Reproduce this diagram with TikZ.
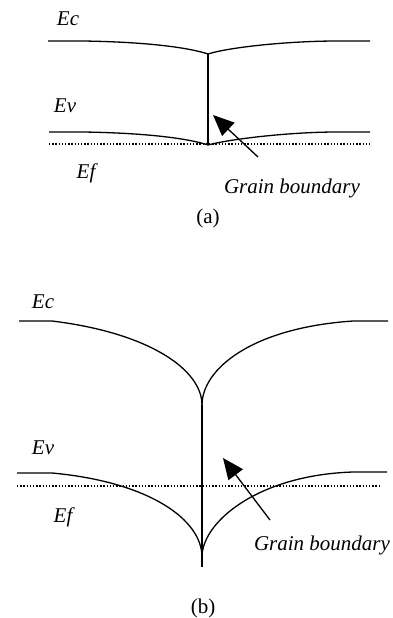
\documentclass[tikz,border=0pt]{standalone}
\usepackage{fontspec}
\setmainfont{Liberation Serif}
\usetikzlibrary{arrows.meta}

\begin{document}
\begin{tikzpicture}[
    x=1pt, y=-1pt,
    band/.style={line width=1.3pt},
    fermi/.style={line width=1.4pt, dash pattern=on 1.4pt off 1.8pt},
    lbl/.style={font=\fontsize{21}{24}\selectfont\itshape, inner sep=0pt},
    panel/.style={font=\fontsize{21}{24}\selectfont, inner sep=0pt},
    arr/.style={-{Triangle[length=21pt, width=18pt]}, line width=1.3pt}
]
    \useasboundingbox (0,0) rectangle (392,618);

    % (a) weak band bending
    \node[lbl] (ca) at (68, 19) {Ec};
    \node[lbl] (va) at (65, 106) {Ev};
    \node[lbl] (fa) at (86, 173) {Ef};

    \draw[band] (48,41) -- (83,41) .. controls (150,42) and (190,48) .. (208,54)
        .. controls (230,47) and (290,41) .. (337,41) -- (370,41);
    \draw[band] (49,132) -- (83,132) .. controls (150,133) and (190,139) .. (208,145)
        .. controls (230,139) and (290,132) .. (337,132) -- (370,132);
    \draw[band] (208,54) -- (208,145);
    \draw[fermi] (49,144) -- (370,144);

    \node[lbl] (gba) at (292, 188) {Grain boundary};
    \coordinate (tipa) at (213, 115);
    \coordinate (taila) at (258, 157);
    \draw[arr] (taila) -- (tipa);

    \node[panel] (la) at (208, 218) {(a)};

    % (b) strong band bending
    \node[lbl] (cb) at (43, 302) {Ec};
    \node[lbl] (vb) at (43, 448) {Ev};
    \node[lbl] (fb) at (63, 517) {Ef};

    \draw[band] (19,321) -- (52,321) .. controls (150,333) and (202,370) .. (202,405);
    \draw[band] (202,405) .. controls (202,370) and (250,328) .. (353,321) -- (388,321);
    \draw[band] (17,473) -- (52,473) .. controls (150,482) and (202,520) .. (202,557);
    \draw[band] (202,557) .. controls (202,522) and (258,475) .. (353,472) -- (387,472);
    \draw[band] (202,405) -- (202,567);
    \draw[fermi] (17,486) -- (380,486);

    \node[lbl] (gbb) at (322, 545) {Grain boundary};
    \coordinate (tipb) at (223, 458);
    \coordinate (tailb) at (270, 520);
    \draw[arr] (tailb) -- (tipb);

    \node[panel] (lb) at (203, 608) {(b)};
\end{tikzpicture}
\end{document}
